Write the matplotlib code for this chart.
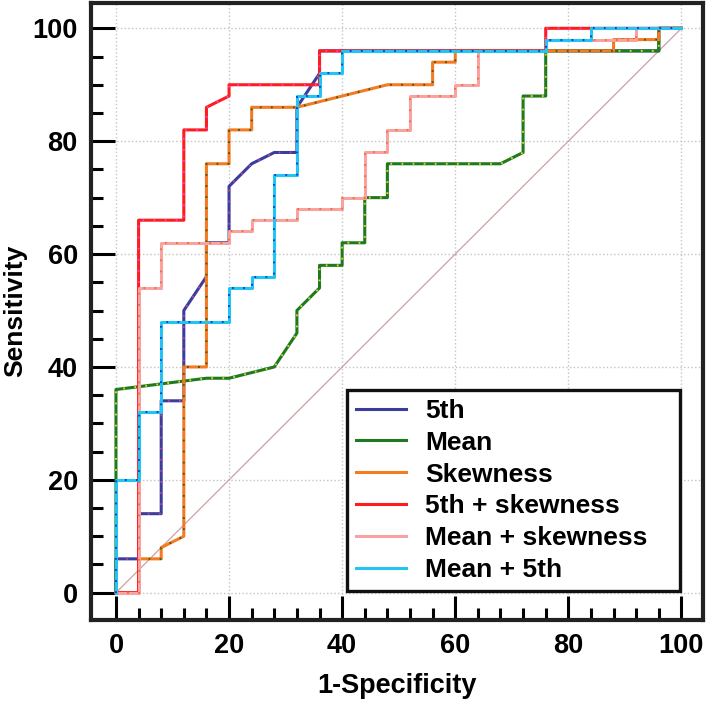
import matplotlib
matplotlib.use("Agg")
import matplotlib.pyplot as plt
from matplotlib.ticker import FixedLocator

plt.rcParams['font.family'] = ['Liberation Sans', 'DejaVu Sans']
plt.rcParams['font.weight'] = 'bold'

# ROC curves: 1-specificity (%) vs sensitivity (%)
fpr_5th = [0, 0, 4, 4, 8, 8, 12, 12, 16, 16, 20, 20, 24, 28, 32, 32, 36, 36, 96, 96, 100]
sens_5th = [0, 6, 6, 14, 14, 34, 34, 50, 56, 62, 62, 72, 76, 78, 78, 86, 92, 96, 96, 100, 100]

fpr_mean = [0, 0, 16, 20, 28, 32, 32, 36, 36, 40, 40, 44, 44, 48, 48, 68, 72, 72, 76, 76, 96, 96, 100]
sens_mean = [0, 36, 38, 38, 40, 46, 50, 54, 58, 58, 62, 62, 70, 70, 76, 76, 78, 88, 88, 96, 96, 100, 100]

fpr_skew = [0, 4, 4, 8, 8, 12, 12, 16, 16, 20, 20, 24, 24, 32, 48, 56, 56, 60, 60, 88, 88, 96, 96, 100]
sens_skew = [0, 0, 6, 6, 8, 10, 40, 40, 76, 76, 82, 82, 86, 86, 90, 90, 94, 94, 96, 96, 98, 98, 100, 100]

fpr_5th_skew = [0, 4, 4, 12, 12, 16, 16, 20, 20, 36, 36, 76, 76, 100]
sens_5th_skew = [0, 0, 66, 66, 82, 82, 86, 88, 90, 90, 96, 96, 100, 100]

fpr_mean_skew = [0, 4, 4, 8, 8, 20, 20, 24, 24, 32, 32, 40, 40, 44, 44, 48, 48, 52, 52, 60, 60, 64, 64, 76, 76, 92, 92, 100]
sens_mean_skew = [0, 0, 54, 54, 62, 62, 64, 64, 66, 66, 68, 68, 70, 70, 78, 78, 82, 82, 88, 88, 90, 90, 96, 96, 98, 98, 100, 100]

fpr_mean_5th = [0, 0, 4, 4, 8, 8, 20, 20, 24, 24, 28, 28, 32, 32, 36, 36, 40, 40, 76, 76, 84, 84, 100]
sens_mean_5th = [0, 20, 20, 32, 32, 48, 48, 54, 54, 56, 56, 74, 74, 88, 88, 92, 92, 96, 96, 98, 98, 100, 100]

chance = [0, 100]

curves = [
    ("5th", fpr_5th, sens_5th, "#3c3c9c", "#b04a9a"),
    ("Mean", fpr_mean, sens_mean, "#1f7a1f", "#e3d42a"),
    ("Skewness", fpr_skew, sens_skew, "#f57a20", "#3d5a1c"),
    ("5th + skewness", fpr_5th_skew, sens_5th_skew, "#ff1c1c", "#ff3ccc"),
    ("Mean + skewness", fpr_mean_skew, sens_mean_skew, "#f8a2a2", "#f07030"),
    ("Mean + 5th", fpr_mean_5th, sens_mean_5th, "#22c4f0", "#1535e0"),
]

fig = plt.figure(figsize=(7.09, 7.02), dpi=100)
ax = fig.add_axes([0.1283, 0.1175, 0.8639, 0.8782])

ax.plot(chance, chance, color="#c9a3a3", lw=0.9, zorder=2)

for label, fx, sy, col, dotcol in curves:
    ax.plot(fx, sy, color=col, lw=2.2, label=label, zorder=3)
    # small coloured dots running along each curve
    ax.plot(fx, sy, color=dotcol, lw=1.4, linestyle=(0, (0.9, 4.8)), zorder=3)

ax.set_xlim(-4.42, 103.9)
ax.set_ylim(-4.75, 104.48)

ax.set_xticks(range(0, 101, 20))
ax.set_yticks(range(0, 101, 20))
ax.xaxis.set_minor_locator(FixedLocator([v for v in range(0, 101, 4) if v % 20]))
ax.yaxis.set_minor_locator(FixedLocator([v for v in range(0, 101, 5) if v % 20]))
ax.tick_params(which="major", direction="in", length=17, width=2.2, labelsize=19.5, pad=9.5)
ax.tick_params(which="minor", direction="in", length=8.5, width=2.2)
for t in ax.get_xticklabels() + ax.get_yticklabels():
    t.set_fontweight("bold")

ax.grid(True, which="major", color="#c4c4c4", linestyle=":", lw=1.0)
ax.set_axisbelow(True)

for sp in ax.spines.values():
    sp.set_linewidth(3.0)
    sp.set_color("#222222")

ax.set_xlabel("1-Specificity", fontsize=19.5, fontweight="bold")
ax.set_ylabel("Sensitivity", fontsize=19, fontweight="bold")
ax.xaxis.set_label_coords(0.5, -0.087)
ax.yaxis.set_label_coords(-0.104, 0.5)

leg = ax.legend(loc="lower left", bbox_to_anchor=(0.418, 0.0462, 0.5437, 0.34), mode="expand",
                fontsize=19, handlelength=1.9, handletextpad=0.72, labelspacing=0.3,
                borderpad=0.33, borderaxespad=0, fancybox=False, framealpha=1)
leg.get_frame().set_edgecolor("#111111")
leg.get_frame().set_linewidth(2.4)
for t in leg.get_texts():
    t.set_fontweight("bold")

fig.savefig("out.png", dpi=100)
